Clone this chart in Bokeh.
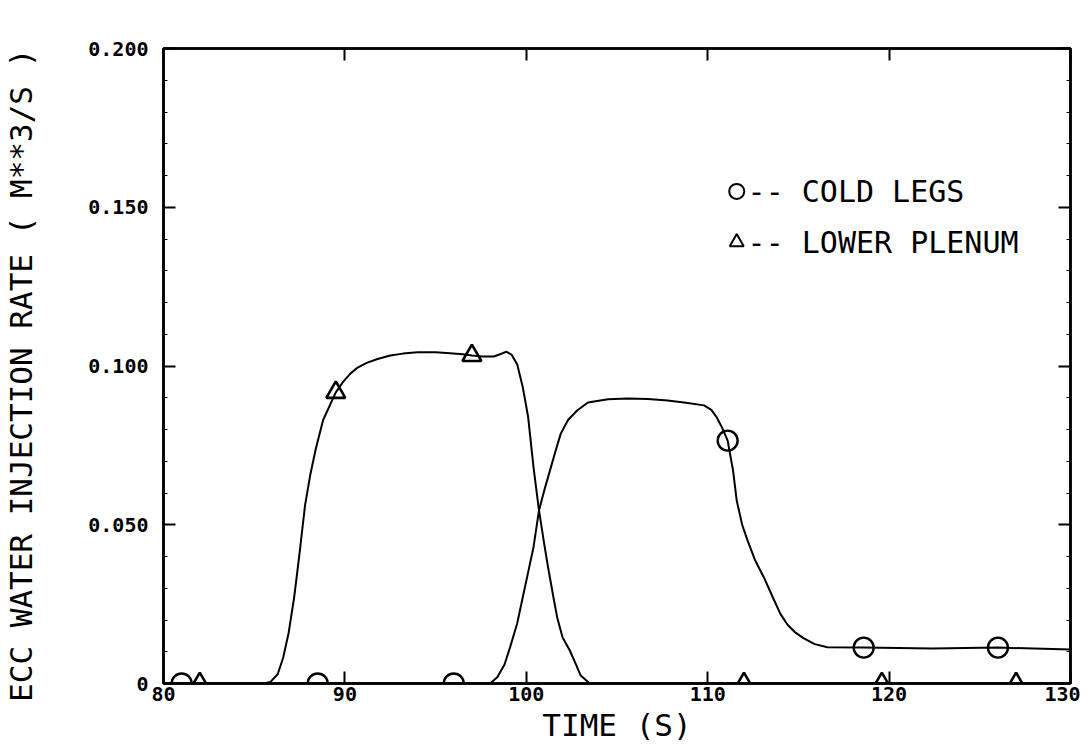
from bokeh.plotting import figure
from bokeh.models import Range1d, LinearAxis, FixedTicker, Label
from bokeh.embed import file_html
from bokeh.resources import INLINE

# ---- data ----
lp_time = [80.0, 85.5, 85.9, 86.3, 86.6, 86.9, 87.2, 87.5, 87.8, 88.1, 88.4, 88.8, 89.2,
           89.5, 89.9, 90.3, 90.7, 91.2, 91.8, 92.5, 93.2, 94.0, 95.0, 95.8, 96.5, 97.0,
           97.6, 98.2, 98.6, 98.9, 99.2, 99.5, 99.8, 100.1, 100.4, 100.7, 101.0, 101.2,
           101.5, 101.7, 102.0, 102.4, 102.7, 103.0, 103.5, 130.0]
lp_rate = [0.0, 0.0, 0.0005, 0.003, 0.0082, 0.016, 0.027, 0.041, 0.056, 0.066, 0.074, 0.083, 0.088,
           0.0917, 0.095, 0.0976, 0.0995, 0.101, 0.1022, 0.1033, 0.1039, 0.1043, 0.1043, 0.104, 0.1037, 0.1033,
           0.103, 0.103, 0.1038, 0.1045, 0.1035, 0.1005, 0.0935, 0.084, 0.068, 0.0545, 0.0435, 0.0366,
           0.027, 0.0209, 0.0145, 0.0104, 0.0065, 0.0025, 0.0, 0.0]

cl_time = [80.0, 98.0, 98.4, 98.8, 99.1, 99.5, 99.8, 100.1, 100.4, 100.7, 101.0, 101.2, 101.6,
           101.9, 102.3, 102.8, 103.4, 104.5, 105.6, 106.7, 107.8, 108.8, 109.8, 110.2, 110.5,
           110.8, 111.1, 111.4, 111.6, 111.9, 112.2, 112.6, 113.1, 113.6, 114.0, 114.4, 114.8,
           115.3, 115.9, 116.6, 118.6, 122.4, 126.0, 130.0]
cl_rate = [0.0, 0.0, 0.002, 0.006, 0.0113, 0.019, 0.027, 0.035, 0.043, 0.0545, 0.061, 0.065, 0.073,
           0.0787, 0.083, 0.086, 0.0885, 0.0895, 0.0898, 0.0896, 0.0891, 0.0884, 0.0876, 0.0862, 0.0838,
           0.0805, 0.0765, 0.067, 0.0576, 0.05, 0.045, 0.039, 0.0334, 0.027, 0.022, 0.0185, 0.0162,
           0.0142, 0.0124, 0.0114, 0.0113, 0.011, 0.0113, 0.0107]

lp_mark_time = [82.0, 89.5, 97.0, 112.0, 119.6, 127.0]
lp_mark_rate = [0.0, 0.0917, 0.1033, 0.0, 0.0, 0.0]
cl_mark_time = [81.0, 88.5, 96.0, 111.1, 118.6, 126.0]
cl_mark_rate = [0.0, 0.0, 0.0, 0.0765, 0.0113, 0.0113]

x_ticks = [80, 90, 100, 110, 120, 130]
x_tick_labels = ["80", "90", "100", "110", "120", "130"]
y_ticks = [0, 0.05, 0.1, 0.15, 0.2]
y_tick_labels = ["0", "0.050", "0.100", "0.150", "0.200"]

legend_labels = ["-- COLD LEGS", "-- LOWER PLENUM"]
x_title = "TIME (S)"
y_title = "ECC WATER INJECTION RATE  ( M**3/S )"

MONO = "DejaVu Sans Mono"

p = figure(width=1080, height=748, output_backend="svg", toolbar_location=None,
           x_range=Range1d(80, 130), y_range=Range1d(0, 0.2),
           min_border_left=163, min_border_right=10, min_border_top=48, min_border_bottom=65)
p.grid.visible = False
p.outline_line_color = "black"
p.outline_line_width = 2.5
p.background_fill_color = "white"
p.border_fill_color = "white"


def style_axis(ax, ticks, labels, show_labels, minor):
    ax.ticker = FixedTicker(ticks=ticks, minor_ticks=minor)
    if show_labels:
        ax.major_label_overrides = dict(zip(ticks, labels))
    else:
        ax.major_label_overrides = {t: "" for t in ticks}
    ax.major_tick_in = 12
    ax.major_tick_out = 0
    ax.minor_tick_in = 4 if minor else 0
    ax.minor_tick_out = 0
    ax.major_tick_line_width = 2
    ax.minor_tick_line_width = 1
    ax.axis_line_width = 2.5
    ax.axis_line_color = "black"
    ax.major_tick_line_color = "black"
    ax.minor_tick_line_color = "black"
    ax.major_label_text_font = MONO
    ax.major_label_text_font_style = "bold"
    ax.major_label_text_font_size = "20px"
    ax.major_label_text_color = "black"
    ax.axis_label_text_font = MONO
    ax.axis_label_text_font_style = "normal"
    ax.axis_label_text_font_size = "31px"
    ax.axis_label_text_color = "black"


y_minor = [round(0.01 * i, 3) for i in range(21) if i % 5 != 0]

xa = p.xaxis[0]
style_axis(xa, x_ticks, x_tick_labels, True, [])
xa.major_label_standoff = 3
xa.axis_label = x_title
xa.axis_label_standoff = 3

ya = p.yaxis[0]
style_axis(ya, y_ticks, y_tick_labels, True, y_minor)
ya.major_label_standoff = 15
ya.axis_label = y_title
ya.axis_label_standoff = 46

top = LinearAxis()
style_axis(top, x_ticks, x_tick_labels, False, [])
top.major_label_standoff = 0
p.add_layout(top, "above")
right = LinearAxis()
style_axis(right, y_ticks, y_tick_labels, False, y_minor)
right.major_label_standoff = 0
p.add_layout(right, "right")

# curves
p.line(lp_time, lp_rate, line_color="black", line_width=2)
p.line(cl_time, cl_rate, line_color="black", line_width=2)

# markers
p.scatter(cl_mark_time, cl_mark_rate, marker="circle", size=20, fill_alpha=0,
          line_color="black", line_width=2.4)
p.scatter(lp_mark_time, lp_mark_rate, marker="triangle", size=19, fill_alpha=0,
          line_color="black", line_width=2.6)

# legend (hand-drawn in the original)
p.scatter([111.6], [0.155], marker="circle", size=15, fill_alpha=0, line_color="black", line_width=2)
p.scatter([111.6], [0.139], marker="triangle", size=14, fill_alpha=0, line_color="black", line_width=2)
for lab, yy in zip(legend_labels, [0.155, 0.139]):
    p.add_layout(Label(x=112.2, y=yy, text=lab, text_font=MONO, text_font_size="30px",
                       text_baseline="middle", text_align="left", text_color="black"))

open("out.html", "w").write(file_html(p, INLINE))
